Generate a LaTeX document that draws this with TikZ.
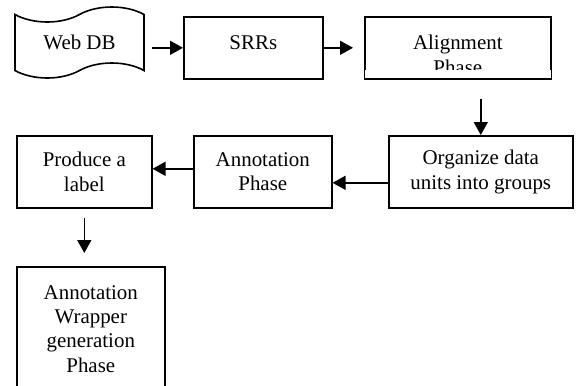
\documentclass[tikz,border=0pt]{standalone}
\usepackage{fontspec}
\setmainfont{Liberation Serif}
\usetikzlibrary{shapes.symbols,arrows.meta}
\def\phasebox{\node[draw,align=center,inner sep=0pt,anchor=north west,font=\fontsize{21}{24.5}\selectfont]}

\begin{document}
\begin{tikzpicture}[x=1bp,y=1bp,line width=1.6bp,>={Triangle[length=13bp,width=14bp]}]
\useasboundingbox (0,0) rectangle (576,-385);
\node[tape,draw,tape bend top=in and out,tape bend bottom=in and out,tape bend height=15bp,
  minimum width=129bp,minimum height=71bp,inner sep=0pt,font=\fontsize{21}{24.5}\selectfont] (webdb) at (79.5,-42.5) {Web DB};
\phasebox[minimum width=139bp,text height=33bp,text depth=29bp] (srrs) at (183,-16) {SRRs};
\phasebox[minimum width=186bp,text height=57.5bp,text depth=4.5bp] (align) at (364,-16) {Alignment\\Phase};
\fill[white] ([shift={(1,1.6)}]align.south west) rectangle ([shift={(-1,10)}]align.south east);
\phasebox[minimum width=184bp,minimum height=72bp] (org) at (388,-135) {Organize data\\units into groups};
\phasebox[minimum width=138bp,minimum height=72bp] (annot) at (193,-135) {Annotation\\Phase};
\phasebox[minimum width=135bp,minimum height=72bp] (produce) at (16,-135) {Produce a\\label};
\phasebox[minimum width=148bp,minimum height=124bp] (wrap) at (16,-266) {Annotation\\Wrapper\\generation\\Phase};
\draw[->,shorten <=7bp] (srrs.west -| webdb.east) -- (srrs.west);
\draw[->,shorten >=11bp] (srrs.east) -- (align.west);
\draw[->,shorten <=19bp] (org.north |- align.south) -- (org.north);
\draw[->] ([yshift=-11bp]org.west) -- ([yshift=-11bp]org.west -| annot.east);
\draw[->] ([yshift=3bp]annot.west) -- ([yshift=3bp]annot.west -| produce.east);
\draw[->,shorten <=9bp,shorten >=13bp] (produce.south) -- (produce.south |- wrap.north);
\end{tikzpicture}
\end{document}
